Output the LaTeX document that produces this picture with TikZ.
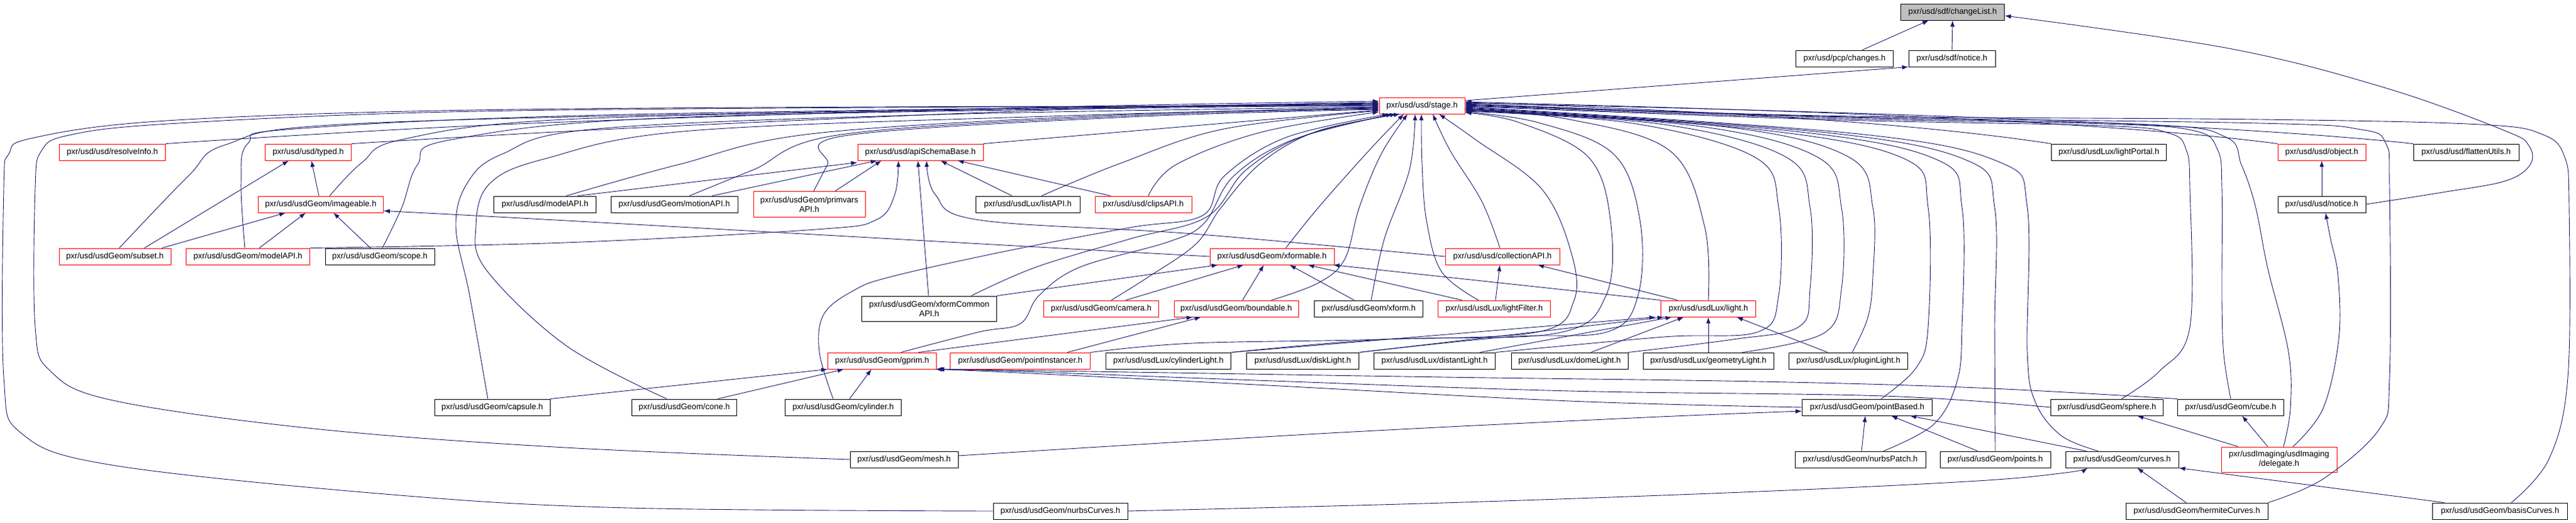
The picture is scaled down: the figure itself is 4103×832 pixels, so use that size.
\documentclass[tikz,border=0pt]{standalone}
\usepackage{fontspec}
\setmainfont{Liberation Sans}
\usetikzlibrary{arrows.meta}
\definecolor{edgeblue}{HTML}{191970}
\definecolor{cutred}{HTML}{FF0000}
\definecolor{focusgray}{HTML}{BFBFBF}
\tikzstyle{header} = [rectangle, draw=black, line width=0.9pt, fill=white, minimum height=26pt, inner sep=2pt, align=center, font=\fontsize{13}{15}\selectfont]
\tikzstyle{cutheader} = [header, draw=cutred]
\tikzstyle{focusheader} = [header, fill=focusgray]
\tikzstyle{incl} = [draw=edgeblue, line width=0.9pt, -{Latex[length=10pt,width=7pt]}]

\begin{document}
\begin{tikzpicture}[x=1pt, y=-1pt]
\useasboundingbox (0,0) rectangle (4103,832);

\node (changeList) [focusheader, minimum width=165pt] at (3110,19) {pxr/usd/sdf/changeList.h};
\node (changes) [header, minimum width=155pt] at (2938,93) {pxr/usd/pcp/changes.h};
\node (sdfnotice) [header, minimum width=138pt] at (3109,93) {pxr/usd/sdf/notice.h};
\node (stage) [cutheader, minimum width=136pt] at (2265,168) {pxr/usd/usd/stage.h};

\node (resolveInfo) [cutheader, minimum width=169pt] at (179,242) {pxr/usd/usd/resolveInfo.h};
\node (typed) [cutheader, minimum width=137pt] at (491,242) {pxr/usd/usd/typed.h};
\node (apiSchemaBase) [cutheader, minimum width=200pt] at (1466,242) {pxr/usd/usd/apiSchemaBase.h};
\node (lightPortal) [header, minimum width=183pt] at (3359,242) {pxr/usd/usdLux/lightPortal.h};
\node (object) [cutheader, minimum width=140pt] at (3698,242) {pxr/usd/usd/object.h};
\node (flattenUtils) [header, minimum width=168pt] at (3928,242) {pxr/usd/usd/flattenUtils.h};

\node (imageable) [cutheader, minimum width=199pt] at (511,325) {pxr/usd/usdGeom/imageable.h};
\node (usdModelAPI) [header, minimum width=163pt] at (868,325) {pxr/usd/usd/modelAPI.h};
\node (motionAPI) [header, minimum width=202pt] at (1074,325) {pxr/usd/usdGeom/motionAPI.h};
\node (primvarsAPI) [cutheader, minimum width=178pt, minimum height=41pt] at (1289,325) {pxr/usd/usdGeom/primvars\\API.h};
\node (listAPI) [header, minimum width=166pt] at (1637,325) {pxr/usd/usdLux/listAPI.h};
\node (clipsAPI) [cutheader, minimum width=154pt] at (1821,325) {pxr/usd/usd/clipsAPI.h};
\node (usdNotice) [header, minimum width=140pt] at (3698,325) {pxr/usd/usd/notice.h};

\node (subset) [cutheader, minimum width=178pt] at (183,408) {pxr/usd/usdGeom/subset.h};
\node (geomModelAPI) [cutheader, minimum width=197pt] at (395,408) {pxr/usd/usdGeom/modelAPI.h};
\node (scope) [header, minimum width=174pt] at (605,408) {pxr/usd/usdGeom/scope.h};
\node (xformable) [cutheader, minimum width=198pt] at (2026,408) {pxr/usd/usdGeom/xformable.h};
\node (collectionAPI) [cutheader, minimum width=182pt] at (2393,408) {pxr/usd/usd/collectionAPI.h};

\node (xformCommonAPI) [header, minimum width=215pt, minimum height=40pt] at (1480,491) {pxr/usd/usdGeom/xformCommon\\API.h};
\node (camera) [cutheader, minimum width=183pt] at (1754,491) {pxr/usd/usdGeom/camera.h};
\node (boundable) [cutheader, minimum width=198pt] at (1969,491) {pxr/usd/usdGeom/boundable.h};
\node (xform) [header, minimum width=173pt] at (2180,491) {pxr/usd/usdGeom/xform.h};
\node (lightFilter) [cutheader, minimum width=179pt] at (2380,491) {pxr/usd/usdLux/lightFilter.h};
\node (light) [cutheader, minimum width=151pt] at (2721,491) {pxr/usd/usdLux/light.h};

\node (gprim) [cutheader, minimum width=173pt] at (1405,574) {pxr/usd/usdGeom/gprim.h};
\node (pointInstancer) [cutheader, minimum width=223pt] at (1625,574) {pxr/usd/usdGeom/pointInstancer.h};
\node (cylinderLight) [header, minimum width=199pt] at (1861,574) {pxr/usd/usdLux/cylinderLight.h};
\node (diskLight) [header, minimum width=179pt] at (2075,574) {pxr/usd/usdLux/diskLight.h};
\node (distantLight) [header, minimum width=193pt] at (2285,574) {pxr/usd/usdLux/distantLight.h};
\node (domeLight) [header, minimum width=186pt] at (2500,574) {pxr/usd/usdLux/domeLight.h};
\node (geometryLight) [header, minimum width=208pt] at (2721,574) {pxr/usd/usdLux/geometryLight.h};
\node (pluginLight) [header, minimum width=189pt] at (2944,574) {pxr/usd/usdLux/pluginLight.h};

\node (capsule) [header, minimum width=184pt] at (784,648) {pxr/usd/usdGeom/capsule.h};
\node (cone) [header, minimum width=167pt] at (1090,648) {pxr/usd/usdGeom/cone.h};
\node (cylinder) [header, minimum width=185pt] at (1343,648) {pxr/usd/usdGeom/cylinder.h};
\node (pointBased) [header, minimum width=207pt] at (2974,648) {pxr/usd/usdGeom/pointBased.h};
\node (sphere) [header, minimum width=179pt] at (3356,648) {pxr/usd/usdGeom/sphere.h};
\node (cube) [header, minimum width=169pt] at (3553,648) {pxr/usd/usdGeom/cube.h};

\node (mesh) [header, minimum width=172pt] at (1440,731) {pxr/usd/usdGeom/mesh.h};
\node (nurbsPatch) [header, minimum width=208pt] at (2963,731) {pxr/usd/usdGeom/nurbsPatch.h};
\node (points) [header, minimum width=176pt] at (3178,731) {pxr/usd/usdGeom/points.h};
\node (curves) [header, minimum width=180pt] at (3380,731) {pxr/usd/usdGeom/curves.h};
\node (delegate) [cutheader, minimum width=184pt, minimum height=40pt] at (3630,731) {pxr/usdImaging/usdImaging\\/delegate.h};

\node (nurbsCurves) [header, minimum width=214pt] at (1689,813) {pxr/usd/usdGeom/nurbsCurves.h};
\node (hermiteCurves) [header, minimum width=226pt] at (3499,813) {pxr/usd/usdGeom/hermiteCurves.h};
\node (basisCurves) [header, minimum width=215pt] at (3982,813) {pxr/usd/usdGeom/basisCurves.h};

\draw[incl] ([xshift=28pt]changes.north) -- ([xshift=-38pt]changeList.south);
\draw[incl] (sdfnotice.north) -- (changeList.south);
\draw[incl] ([yshift=8pt]stage.east) -- (sdfnotice.south west);
\draw[incl] plot[smooth,tension=.6] coordinates {(usdNotice.east) (3890,306) (3990,288) (4030,262) (4028,232) (3990,208) (3800,140) (3550,77) ([yshift=-6pt]changeList.east)};
\draw[incl] (usdNotice.north) -- (object.south);
\draw[incl] plot[smooth,tension=.6] coordinates {([xshift=22pt]delegate.north) (3700,650) (3725,540) (3724,440) (3712,380) ([xshift=6pt]usdNotice.south)};
\draw[incl] ([xshift=-65pt]delegate.north) -- ([xshift=48pt]sphere.south);
\draw[incl] ([xshift=-18pt]delegate.north) -- ([xshift=18pt]cube.south);

\draw[incl] plot[smooth,tension=.6] coordinates {(resolveInfo.north east) (800,198) (1600,172) ([yshift=7pt]stage.west)};
\draw[incl] plot[smooth,tension=.6] coordinates {(typed.north east) (1000,204) (1700,174) ([yshift=5pt]stage.west)};
\draw[incl] (apiSchemaBase.north east) -- ([yshift=-7pt]stage.west);
\draw[incl] plot[smooth,tension=.6] coordinates {([xshift=14pt]imageable.north) (577,258) (640,222) (900,190) (1600,174) ([yshift=2pt]stage.west)};
\draw[incl] plot[smooth,tension=.6] coordinates {([xshift=7pt]subset.north) (300,280) (360,230) (560,197) (1400,176) ([yshift=4pt]stage.west)};
\draw[incl] plot[smooth,tension=.6] coordinates {([xshift=-5pt]geomModelAPI.north) (384,290) (395,228) (470,205) (1000,182) ([yshift=3pt]stage.west)};
\draw[incl] plot[smooth,tension=.6] coordinates {([xshift=4pt]scope.north) (640,330) (665,262) (720,222) (1100,186) ([yshift=1pt]stage.west)};
\draw[incl] plot[smooth,tension=.6] coordinates {([xshift=34pt]usdModelAPI.north) (1080,262) (1300,212) (1800,182) ([yshift=-4pt]stage.west)};
\draw[incl] plot[smooth,tension=.6] coordinates {([xshift=24pt]motionAPI.north) (1200,270) (1340,214) (1800,184) ([yshift=-5pt]stage.west)};
\draw[incl] plot[smooth,tension=.6] coordinates {([xshift=7pt]primvarsAPI.north) (1318,262) (1345,216) (1800,186) ([yshift=-6pt]stage.west)};
\draw[incl] plot[smooth,tension=.6] coordinates {([xshift=22pt]listAPI.north) (1784,260) (1950,205) ([yshift=-8pt]stage.west)};
\draw[incl] plot[smooth,tension=.6] coordinates {([xshift=8pt]clipsAPI.north) (1873,262) (2010,210) ([yshift=-10pt]stage.west)};
\draw[incl] plot[smooth,tension=.6] coordinates {([xshift=-7pt]capsule.north) (748,470) (726,360) (745,290) (800,245) (950,205) (1500,182) ([yshift=-2pt]stage.west)};
\draw[incl] plot[smooth,tension=.6] coordinates {([xshift=-28pt]cone.north) (902,550) (775,430) (758,360) (780,292) (870,252) (1100,208) (1700,184) ([yshift=-3pt]stage.west)};
\draw[incl] plot[smooth,tension=.6] coordinates {(mesh.west) (900,712) (500,682) (180,637) (80,590) (56,520) (56,300) (66,240) (110,215) (268,197) (714,178) (1400,171) (stage.west)};
\draw[incl] plot[smooth,tension=.6] coordinates {(nurbsCurves.west) (1000,808) (625,787) (179,740) (35,690) (6,600) (6,300) (14,245) (50,220) (250,193) (700,176) (1400,170) ([yshift=-1pt]stage.west)};

\draw[incl] plot[smooth,tension=.6] coordinates {([xshift=-16pt]cylinder.north) (1305,560) (1312,500) (1360,462) (1420,440) (1600,400) (1800,362) (1915,343) (1950,280) (2050,218) ([xshift=-53pt]stage.south)};
\draw[incl] plot[smooth,tension=.6] coordinates {([xshift=30pt]gprim.north) (1560,528) (1625,515) (1655,470) (1720,425) (1860,385) (1918,355) (1965,280) (2060,222) ([xshift=-47pt]stage.south)};
\draw[incl] plot[smooth,tension=.6] coordinates {([xshift=67pt]xformCommonAPI.north) (1650,425) (1800,380) (1922,345) (1985,270) (2080,215) ([xshift=-41pt]stage.south)};
\draw[incl] plot[smooth,tension=.6] coordinates {([xshift=16pt]camera.north) (1830,440) (1905,388) (1945,330) (2010,258) (2100,208) ([xshift=-35pt]stage.south)};
\draw[incl] plot[smooth,tension=.6] coordinates {([xshift=22pt]xformable.north) (2100,330) (2180,240) ([xshift=-29pt]stage.south)};
\draw[incl] plot[smooth,tension=.6] coordinates {([xshift=56pt]boundable.north) (2100,450) (2142,412) (2165,330) (2200,245) ([xshift=-23pt]stage.south)};
\draw[incl] plot[smooth,tension=.6] coordinates {([xshift=4pt]xform.north) (2205,380) (2245,270) ([xshift=-11pt]stage.south)};
\draw[incl] plot[smooth,tension=.6] coordinates {([xshift=-25pt]lightFilter.north) (2296,432) (2272,350) (2265,260) ([xshift=-1pt]stage.south)};
\draw[incl] plot[smooth,tension=.6] coordinates {([xshift=-4pt]collectionAPI.north) (2360,320) (2310,240) ([xshift=17pt]stage.south)};
\draw[incl] plot[smooth,tension=.6] coordinates {(pointInstancer.north east) (1900,546) (2200,540) (2450,528) (2507,478) (2502,400) (2455,300) (2350,222) ([xshift=27pt]stage.south)};

\draw[incl] plot[smooth,tension=.6] coordinates {(light.north) (2715,360) (2660,240) (2500,190) ([yshift=-6pt]stage.east)};
\draw[incl] plot[smooth,tension=.6] coordinates {(cylinderLight.north east) (2200,540) (2480,530) (2558,470) (2565,350) (2530,250) (2420,195) ([yshift=-11pt]stage.east)};
\draw[incl] plot[smooth,tension=.6] coordinates {(diskLight.north east) (2400,536) (2560,528) (2609,470) (2612,350) (2570,245) (2450,195) ([yshift=-10pt]stage.east)};
\draw[incl] plot[smooth,tension=.6] coordinates {(distantLight.north east) (2650,536) (2800,528) (2833,470) (2833,330) (2795,250) (2600,196) ([yshift=-9pt]stage.east)};
\draw[incl] plot[smooth,tension=.6] coordinates {(domeLight.north east) (2760,540) (2865,520) (2883,460) (2883,330) (2845,250) (2650,198) ([yshift=-8pt]stage.east)};
\draw[incl] plot[smooth,tension=.6] coordinates {([xshift=54pt]geometryLight.north) (2905,530) (2933,460) (2933,330) (2895,250) (2700,200) ([yshift=-7pt]stage.east)};
\draw[incl] plot[smooth,tension=.6] coordinates {([xshift=6pt]pluginLight.north) (2975,505) (2983,440) (2983,330) (2945,250) (2750,202) ([yshift=-6pt]stage.east)};
\draw[incl] plot[smooth,tension=.6] coordinates {([xshift=22pt]pointBased.north) (3052,585) (3071,520) (3071,330) (3032,252) (2800,206) ([yshift=-5pt]stage.east)};
\draw[incl] plot[smooth,tension=.6] coordinates {([xshift=37pt]nurbsPatch.north) (3080,675) (3117,607) (3125,520) (3125,330) (3085,254) (2850,208) ([yshift=-4pt]stage.east)};
\draw[incl] plot[smooth,tension=.6] coordinates {(points.north) (3177,520) (3177,330) (3135,256) (2900,210) ([yshift=-3pt]stage.east)};
\draw[incl] plot[smooth,tension=.6] coordinates {([xshift=-38pt]curves.north) (3283,693) (3242,640) (3229,560) (3229,330) (3185,258) (2950,212) ([yshift=-2pt]stage.east)};
\draw[incl] plot[smooth,tension=.6] coordinates {([xshift=23pt]sphere.north) (3440,590) (3488,520) (3488,300) (3482,238) (3455,212) (3350,200) (2900,190) ([yshift=-1pt]stage.east)};
\draw[incl] plot[smooth,tension=.6] coordinates {(cube.north) (3542,565) (3539,480) (3539,300) (3532,238) (3495,208) (3350,197) (2900,188) (stage.east)};
\draw[incl] plot[smooth,tension=.6] coordinates {([xshift=7pt]delegate.north) (3648,650) (3645,560) (3612,427) (3592,327) (3570,262) (3545,218) (3420,198) (2900,186) ([yshift=1pt]stage.east)};
\draw[incl] plot[smooth,tension=.6] coordinates {(hermiteCurves.north east) (3700,762) (3790,682) (3806,600) (3806,300) (3800,228) (3760,206) (3600,196) (2900,185) ([yshift=2pt]stage.east)};
\draw[incl] plot[smooth,tension=.6] coordinates {([xshift=18pt]basisCurves.north) (4060,730) (4090,600) (4092,330) (4085,250) (4050,214) (3950,198) (3600,190) (2900,184) ([yshift=3pt]stage.east)};
\draw[incl] (lightPortal.north west) .. controls (3000,188) and (2600,172) .. ([yshift=5pt]stage.east);
\draw[incl] (object.north west) .. controls (3300,186) and (2700,172) .. ([yshift=6pt]stage.east);
\draw[incl] (flattenUtils.north west) .. controls (3500,192) and (2800,174) .. ([yshift=4pt]stage.east);

\draw[incl] ([xshift=-3pt]imageable.north) -- ([xshift=5pt]typed.south);
\draw[incl] ([xshift=47pt]subset.north) -- ([xshift=-31pt]typed.south);
\draw[incl] ([xshift=75pt]subset.north) -- ([xshift=-56pt]imageable.south);
\draw[incl] ([xshift=18pt]geomModelAPI.north) -- ([xshift=-24pt]imageable.south);
\draw[incl] ([xshift=-15pt]scope.north) -- ([xshift=20pt]imageable.south);
\draw[incl] (xformable.west) .. controls (1500,385) and (900,350) .. ([yshift=3pt]imageable.south east);

\draw[incl] ([xshift=52pt]usdModelAPI.north) -- ([yshift=-3pt]apiSchemaBase.south west);
\draw[incl] ([xshift=60pt]motionAPI.north) -- ([xshift=-69pt]apiSchemaBase.south);
\draw[incl] ([xshift=41pt]primvarsAPI.north) -- ([xshift=-62pt]apiSchemaBase.south);
\draw[incl] plot[smooth,tension=.6] coordinates {(geomModelAPI.north east) (900,386) (1300,365) (1395,350) (1425,310) ([xshift=-35pt]apiSchemaBase.south)};
\draw[incl] ([xshift=-1pt]xformCommonAPI.north) -- ([xshift=-4pt]apiSchemaBase.south);
\draw[incl] plot[smooth,tension=.6] coordinates {(collectionAPI.west) (1900,372) (1560,350) (1490,310) ([xshift=10pt]apiSchemaBase.south)};
\draw[incl] ([xshift=-25pt]listAPI.north) -- ([xshift=32pt]apiSchemaBase.south);
\draw[incl] ([xshift=-52pt]clipsAPI.north) -- ([xshift=59pt]apiSchemaBase.south);

\draw[incl] (xformCommonAPI.north east) -- ([xshift=-86pt]xformable.south);
\draw[incl] ([xshift=39pt]camera.north) -- ([xshift=-45pt]xformable.south);
\draw[incl] ([xshift=10pt]boundable.north) -- ([xshift=-13pt]xformable.south);
\draw[incl] ([xshift=-23pt]xform.north) -- ([xshift=28pt]xformable.south);
\draw[incl] ([xshift=-51pt]lightFilter.north) -- ([xshift=57pt]xformable.south);
\draw[incl] (light.north west) -- ([xshift=-2pt]xformable.south east);
\draw[incl] ([xshift=2pt]lightFilter.north) -- ([xshift=-4pt]collectionAPI.south);
\draw[incl] ([xshift=-49pt]light.north) -- ([xshift=56pt]collectionAPI.south);

\draw[incl] ([xshift=58pt]gprim.north) -- ([xshift=-69pt]boundable.south);
\draw[incl] ([xshift=75pt]pointInstancer.north) -- ([xshift=-56pt]boundable.south);
\draw[incl] (cylinderLight.north east) -- ([xshift=-84pt]light.south);
\draw[incl] (diskLight.north east) -- ([xshift=-71pt]light.south);
\draw[incl] ([xshift=72pt]distantLight.north) -- ([xshift=-58pt]light.south);
\draw[incl] ([xshift=34pt]domeLight.north) -- ([xshift=-39pt]light.south);
\draw[incl] (geometryLight.north) -- (light.south);
\draw[incl] ([xshift=-33pt]pluginLight.north) -- ([xshift=45pt]light.south);

\draw[incl] (capsule.north east) -- (gprim.south west);
\draw[incl] ([xshift=53pt]cone.north) -- ([xshift=-61pt]gprim.south);
\draw[incl] ([xshift=10pt]cylinder.north) -- ([xshift=-17pt]gprim.south);
\draw[incl] plot[smooth,tension=.6] coordinates {(pointBased.west) (2500,638) (2000,612) (1600,592) ([xshift=-2pt]gprim.south east)};
\draw[incl] plot[smooth,tension=.6] coordinates {(sphere.west) (3000,630) (2500,622) (2000,605) (1600,590) (gprim.south east)};
\draw[incl] plot[smooth,tension=.6] coordinates {(cube.north west) (3150,617) (2800,607) (2300,600) (1800,592) ([xshift=2pt]gprim.south east)};

\draw[incl] plot[smooth,tension=.6] coordinates {([yshift=6pt]mesh.east) (2100,690) (2600,665) ([yshift=-6pt]pointBased.west)};
\draw[incl] ([xshift=2pt]nurbsPatch.north) -- ([xshift=-3pt]pointBased.south);
\draw[incl] ([xshift=-28pt]points.north) -- ([xshift=38pt]pointBased.south);
\draw[incl] ([xshift=-57pt]curves.north) -- ([xshift=68pt]pointBased.south);
\draw[incl] plot[smooth,tension=.6] coordinates {(nurbsCurves.east) (2300,800) (2800,782) (3150,765) (3290,752) ([xshift=-55pt]curves.south)};
\draw[incl] ([xshift=-17pt]hermiteCurves.north) -- ([xshift=24pt]curves.south);
\draw[incl] ([xshift=-89pt]basisCurves.north) -- (curves.south east);
\end{tikzpicture}
\end{document}
